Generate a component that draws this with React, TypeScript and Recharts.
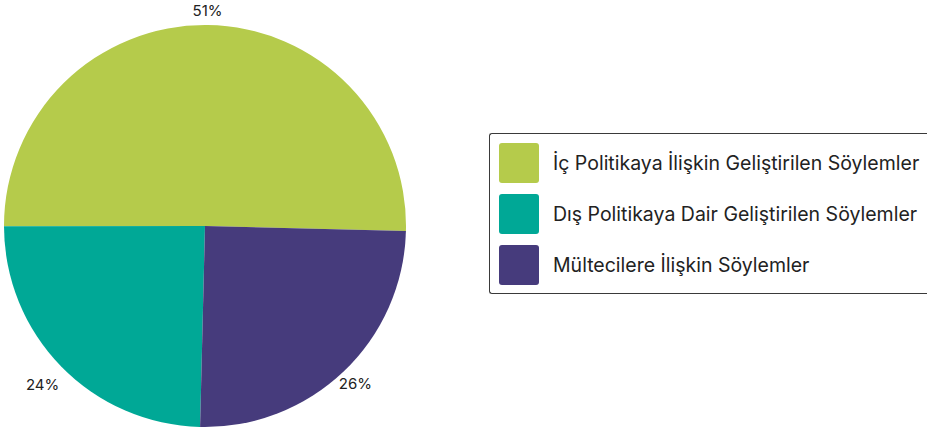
import React from "react";
import { PieChart, Pie, Cell, Legend } from "recharts";

const categories = [
  "İç Politikaya İlişkin Geliştirilen Söylemler",
  "Dış Politikaya Dair Geliştirilen Söylemler",
  "Mültecilere İlişkin Söylemler",
];
const values = [50.4, 24.6, 25.0];
const valueLabels = ["51%", "24%", "26%"];
const colors = ["#B5CB4B", "#00A896", "#463B7C"];

const data = categories.map((name, i) => ({ name, value: values[i] }));

const RAD = Math.PI / 180;

const renderLabel = (props: any) => {
  const { cx, cy, midAngle, outerRadius, index } = props;
  const c = Math.cos(midAngle * RAD);
  const extra = 14 + Math.abs(Math.sin(2 * midAngle * RAD)) * (c < 0 ? 12 : 3);
  const r = outerRadius + extra;
  const x = cx + r * Math.cos(-midAngle * RAD);
  const y = cy + r * Math.sin(-midAngle * RAD);
  return (
    <text
      x={x}
      y={y}
      textAnchor="middle"
      dominantBaseline="central"
      fill="#222"
      fontSize={15}
      fontFamily="Inter, sans-serif"
    >
      {valueLabels[index]}
    </text>
  );
};

const renderLegend = () => (
  <div
    style={{
      boxSizing: "border-box",
      width: 438,
      height: 161,
      border: "1px solid #3a3a3a",
      borderRight: "none",
      borderRadius: "3px 0 0 3px",
      padding: "9px 0 0 9px",
      background: "#fff",
      fontFamily: "Inter, sans-serif",
    }}
  >
    {categories.map((c, i) => (
      <div
        key={c}
        style={{ display: "flex", alignItems: "center", height: 40, marginBottom: 11 }}
      >
        <div
          style={{
            width: 40,
            height: 40,
            borderRadius: 3,
            background: colors[i],
            flexShrink: 0,
          }}
        />
        <span style={{ marginLeft: 14, fontSize: 19.5, color: "#222", whiteSpace: "nowrap" }}>
          {c}
        </span>
      </div>
    ))}
  </div>
);

export default function App() {
  return (
    <div style={{ position: "absolute", left: 0, top: 0, width: 927, height: 430, background: "#fff", overflow: "hidden" }}>
      <PieChart width={927} height={430} margin={{ top: 0, right: 0, bottom: 0, left: 0 }}>
        <Pie
          data={data}
          dataKey="value"
          nameKey="name"
          cx={205}
          cy={226}
          outerRadius={201}
          startAngle={-1.4}
          endAngle={358.6}
          stroke="none"
          label={renderLabel}
          labelLine={false}
          isAnimationActive={false}
        >
          {data.map((d, i) => (
            <Cell key={d.name} fill={colors[i]} />
          ))}
        </Pie>
        <Legend
          content={renderLegend}
          layout="vertical"
          align="right"
          verticalAlign="top"
          wrapperStyle={{ position: "absolute", left: 489, top: 133, width: 438 }}
        />
      </PieChart>
    </div>
  );
}
